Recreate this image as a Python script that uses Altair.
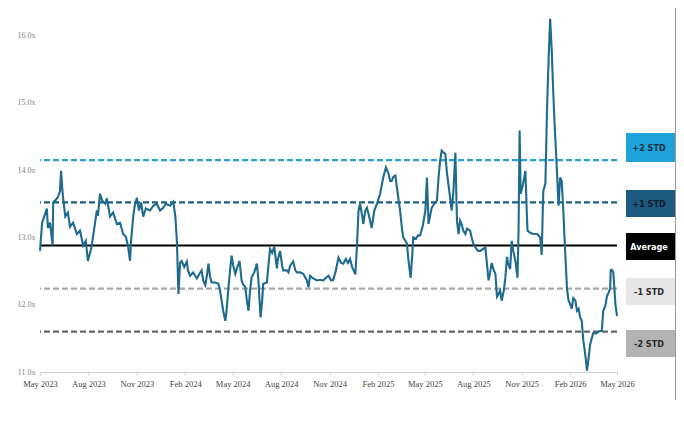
import altair as alt
import pandas as pd

# ---- data ----
dates = [
    "2023-05-01", "2023-05-05", "2023-05-09", "2023-05-14", "2023-05-16", "2023-05-20", "2023-05-25", "2023-05-26",
    "2023-05-31", "2023-06-04", "2023-06-08", "2023-06-10", "2023-06-13", "2023-06-18", "2023-06-23", "2023-06-27",
    "2023-07-03", "2023-07-10", "2023-07-16", "2023-07-22", "2023-07-27", "2023-07-31", "2023-08-04", "2023-08-07",
    "2023-08-12", "2023-08-17", "2023-08-19", "2023-08-23", "2023-08-27", "2023-09-02", "2023-09-05", "2023-09-11",
    "2023-09-17", "2023-09-24", "2023-09-30", "2023-10-06", "2023-10-11", "2023-10-15", "2023-10-19", "2023-10-21",
    "2023-10-25", "2023-10-28", "2023-11-01", "2023-11-05", "2023-11-09", "2023-11-13", "2023-11-18", "2023-11-26",
    "2023-12-02", "2023-12-09", "2023-12-15", "2023-12-21", "2023-12-26", "2024-01-03", "2024-01-09", "2024-01-13",
    "2024-01-16", "2024-01-19", "2024-01-22", "2024-01-25", "2024-01-30", "2024-02-04", "2024-02-06", "2024-02-10",
    "2024-02-16", "2024-02-23", "2024-02-27", "2024-03-03", "2024-03-06", "2024-03-10", "2024-03-13", "2024-03-16",
    "2024-03-19", "2024-03-22", "2024-03-29", "2024-04-04", "2024-04-07", "2024-04-10", "2024-04-13", "2024-04-17",
    "2024-04-19", "2024-04-23", "2024-04-26", "2024-04-29", "2024-05-02", "2024-05-06", "2024-05-09", "2024-05-14",
    "2024-05-18", "2024-05-21", "2024-05-25", "2024-05-28", "2024-05-31", "2024-06-03", "2024-06-06", "2024-06-11",
    "2024-06-16", "2024-06-19", "2024-06-21", "2024-06-23", "2024-06-26", "2024-06-28", "2024-07-05", "2024-07-07",
    "2024-07-11", "2024-07-15", "2024-07-19", "2024-07-24", "2024-07-26", "2024-07-30", "2024-08-03", "2024-08-05",
    "2024-08-12", "2024-08-15", "2024-08-18", "2024-08-24", "2024-08-28", "2024-08-31", "2024-09-06", "2024-09-12",
    "2024-09-19", "2024-09-22", "2024-09-25", "2024-10-01", "2024-10-08", "2024-10-14", "2024-10-20", "2024-10-25",
    "2024-10-30", "2024-11-04", "2024-11-08", "2024-11-13", "2024-11-18", "2024-11-23", "2024-11-27", "2024-12-02",
    "2024-12-06", "2024-12-10", "2024-12-14", "2024-12-20", "2024-12-23", "2024-12-26", "2024-12-29", "2025-01-02",
    "2025-01-04", "2025-01-08", "2025-01-11", "2025-01-15", "2025-01-20", "2025-01-25", "2025-01-30", "2025-02-05",
    "2025-02-11", "2025-02-16", "2025-02-21", "2025-02-24", "2025-02-27", "2025-03-02", "2025-03-06", "2025-03-09",
    "2025-03-11", "2025-03-15", "2025-03-19", "2025-03-21", "2025-03-25", "2025-03-28", "2025-03-31", "2025-04-04",
    "2025-04-07", "2025-04-09", "2025-04-14", "2025-04-18", "2025-04-22", "2025-04-27", "2025-05-02", "2025-05-05",
    "2025-05-08", "2025-05-11", "2025-05-14", "2025-05-19", "2025-05-24", "2025-05-27", "2025-05-30", "2025-06-02",
    "2025-06-06", "2025-06-09", "2025-06-12", "2025-06-14", "2025-06-18", "2025-06-21", "2025-06-24", "2025-06-28",
    "2025-07-01", "2025-07-04", "2025-07-07", "2025-07-10", "2025-07-13", "2025-07-17", "2025-07-20", "2025-07-26",
    "2025-07-29", "2025-08-01", "2025-08-05", "2025-08-10", "2025-08-14", "2025-08-20", "2025-08-24", "2025-08-30",
    "2025-09-02", "2025-09-05", "2025-09-09", "2025-09-12", "2025-09-15", "2025-09-18", "2025-09-21", "2025-09-24",
    "2025-09-28", "2025-10-01", "2025-10-04", "2025-10-06", "2025-10-10", "2025-10-13", "2025-10-16", "2025-10-20",
    "2025-10-24", "2025-10-26", "2025-10-28", "2025-10-30", "2025-11-03", "2025-11-08", "2025-11-11", "2025-11-12",
    "2025-11-17", "2025-11-23", "2025-11-30", "2025-12-03", "2025-12-06", "2025-12-09", "2025-12-11", "2025-12-12",
    "2025-12-16", "2025-12-19", "2025-12-22", "2025-12-25", "2025-12-28", "2025-12-31", "2026-01-03", "2026-01-06",
    "2026-01-10", "2026-01-13", "2026-01-16", "2026-01-19", "2026-01-21", "2026-01-23", "2026-01-26", "2026-01-29",
    "2026-02-01", "2026-02-04", "2026-02-07", "2026-02-11", "2026-02-14", "2026-02-17", "2026-02-20", "2026-02-23",
    "2026-02-26", "2026-03-02", "2026-03-05", "2026-03-07", "2026-03-11", "2026-03-14", "2026-03-17", "2026-03-22",
    "2026-03-27", "2026-03-30", "2026-04-02", "2026-04-05", "2026-04-09", "2026-04-12", "2026-04-15", "2026-04-18",
    "2026-04-19", "2026-04-21", "2026-04-24", "2026-04-28", "2026-05-01",
]
values = [
    12.80, 13.22, 13.31, 13.43, 13.14, 13.22, 12.88, 13.52,
    13.56, 13.60, 13.69, 13.99, 13.65, 13.31, 13.37, 13.16,
    13.22, 13.05, 13.10, 12.88, 12.95, 12.65, 12.77, 12.86,
    13.13, 13.40, 13.32, 13.65, 13.55, 13.50, 13.58, 13.31,
    13.37, 13.20, 13.22, 13.05, 13.01, 12.88, 12.65, 12.95,
    13.31, 13.47, 13.59, 13.40, 13.52, 13.31, 13.43, 13.40,
    13.47, 13.50, 13.40, 13.44, 13.50, 13.47, 13.53, 13.32,
    12.95, 12.16, 12.62, 12.65, 12.56, 12.64, 12.51, 12.43,
    12.48, 12.39, 12.45, 12.51, 12.36, 12.29, 12.43, 12.61,
    12.42, 12.33, 12.33, 12.31, 12.21, 12.06, 11.91, 11.76,
    11.88, 12.26, 12.51, 12.73, 12.58, 12.46, 12.54, 12.65,
    12.36, 12.30, 12.26, 12.06, 11.91, 12.21, 12.41, 12.48,
    12.61, 12.36, 12.06, 11.81, 12.06, 12.31, 12.33, 12.51,
    12.83, 12.77, 12.86, 12.54, 12.68, 12.80, 12.58, 12.51,
    12.51, 12.48, 12.58, 12.64, 12.51, 12.48, 12.48, 12.46,
    12.36, 12.26, 12.43, 12.39, 12.36, 12.37, 12.36, 12.40,
    12.43, 12.36, 12.37, 12.51, 12.70, 12.62, 12.61, 12.68,
    12.62, 12.68, 12.56, 12.45, 12.86, 13.40, 13.50, 13.32,
    13.20, 13.40, 13.44, 13.32, 13.14, 13.40, 13.50, 13.65,
    13.89, 14.04, 13.95, 13.84, 13.84, 13.90, 13.92, 13.74,
    13.62, 13.40, 13.10, 13.00, 12.95, 12.91, 12.65, 12.40,
    12.73, 13.00, 12.98, 13.03, 13.03, 13.17, 13.40, 13.89,
    13.20, 13.32, 13.44, 13.50, 13.55, 13.89, 14.14, 14.29,
    14.26, 14.24, 13.95, 13.84, 13.59, 13.40, 13.65, 14.26,
    13.25, 13.05, 13.25, 13.20, 13.10, 13.05, 13.13, 13.10,
    13.00, 12.91, 12.85, 12.80, 12.80, 12.83, 12.85, 12.36,
    12.48, 12.62, 12.51, 12.46, 12.12, 12.16, 12.21, 12.06,
    12.21, 12.41, 12.71, 12.62, 12.53, 12.95, 12.80, 12.65,
    12.40, 13.10, 14.59, 13.65, 13.77, 13.99, 13.29, 13.10,
    13.07, 13.05, 13.05, 13.03, 13.00, 12.74, 13.40, 13.69,
    13.80, 14.88, 15.63, 16.25, 15.78, 15.14, 14.59, 14.14,
    13.47, 13.89, 13.84, 13.40, 13.05, 12.72, 12.24, 12.06,
    12.01, 11.94, 12.10, 12.06, 11.91, 11.94, 11.81, 11.76,
    11.47, 11.24, 11.02, 11.14, 11.41, 11.50, 11.58, 11.57,
    11.60, 11.61, 11.61, 11.91, 11.99, 12.13, 12.18, 12.24,
    12.51, 12.52, 12.48, 12.01, 11.83,
]

level_labels = ["+2 STD", "+1 STD", "Average", "-1 STD", "-2 STD"]
level_values = [14.15, 13.52, 12.88, 12.24, 11.60]

x_tick_months = [(2023, 5), (2023, 8), (2023, 11), (2024, 2), (2024, 5), (2024, 8), (2024, 11),
                 (2025, 2), (2025, 5), (2025, 8), (2025, 11), (2026, 2), (2026, 5)]
y_ticks = [11, 12, 13, 14, 15, 16]

# ---- styles ----
line_style = {
    "+2 STD": dict(color="#2aa0d6", strokeDash=[6, 3]),
    "+1 STD": dict(color="#1f5d80", strokeDash=[6, 3]),
    "Average": dict(color="#000000"),
    "-1 STD": dict(color="#a8a8a8", strokeDash=[6, 3]),
    "-2 STD": dict(color="#666666", strokeDash=[6, 3]),
}
box_style = {  # fill, text colour, top, bottom (px in plot coords)
    "+2 STD": ("#1ea2da", "#1b2f45", 125, 154),
    "+1 STD": ("#1c5b7f", "#0e1c28", 182, 209),
    "Average": ("#000000", "#ffffff", 225, 252),
    "-1 STD": ("#e6e6e6", "#2a2a2a", 270, 297),
    "-2 STD": ("#b3b3b3", "#2a2a2a", 322, 349),
}

series = pd.DataFrame({"date": dates, "value": values})
levels = pd.DataFrame({"label": level_labels, "value": level_values})

yscale = alt.Scale(domain=[11, 16.41], nice=False, zero=False)
xscale = alt.Scale(type="utc",
                   domain=[alt.DateTime(year=2023, month=5, date=1, utc=True),
                           alt.DateTime(year=2026, month=5, date=1, utc=True)])

xaxis = alt.Axis(
    values=[alt.DateTime(year=y, month=m, date=1, utc=True) for y, m in x_tick_months],
    labelExpr="utcFormat(datum.value, '%b %Y')", title=None, grid=False,
    labelOverlap=False, labelFlush=False,
    domainColor="#cfcfcf", domainWidth=1, tickColor="#cfcfcf", tickSize=3,
    labelFont="Liberation Serif", labelFontSize=8.5, labelColor="#444444", labelPadding=4,
)
yaxis = alt.Axis(
    values=y_ticks, labelExpr="format(datum.value, '.1f') + 'x'", title=None, grid=False,
    domain=False, ticks=False, tickSize=0, labelPadding=5,
    labelFont="Liberation Serif", labelFontSize=8, labelColor="#808080",
)

layers = []
for lab in level_labels:
    sub = levels[levels["label"] == lab]
    layers.append(
        alt.Chart(sub).mark_rule(strokeWidth=2.2, **line_style[lab]).encode(
            y=alt.Y("value:Q", scale=yscale, axis=yaxis)
        )
    )

main_line = alt.Chart(series).mark_line(color="#1f6a8f", strokeWidth=2.1, interpolate="linear").encode(
    x=alt.X("date:T", scale=xscale, axis=xaxis),
    y=alt.Y("value:Q", scale=yscale, axis=yaxis),
)
layers.append(main_line)

for lab in level_labels:
    sub = levels[levels["label"] == lab]
    fill, tcol, top, bot = box_style[lab]
    layers.append(
        alt.Chart(sub).mark_rect(color=fill).encode(
            x=alt.value(586), x2=alt.value(635), y=alt.value(top), y2=alt.value(bot)
        )
    )
    layers.append(
        alt.Chart(sub).mark_text(
            font="DejaVu Sans Condensed, Liberation Sans Narrow, Liberation Sans", fontSize=9,
            fontWeight="bold", color=tcol, align="center", baseline="middle",
        ).encode(x=alt.value(609), y=alt.value((top + bot) / 2), text="label:N")
    )

border = alt.Chart(levels.head(1)).mark_rule(color="#9a9a9a", strokeWidth=1).encode(
    x=alt.value(635.5), y=alt.value(0), y2=alt.value(392)
)
layers.append(border)

chart = alt.layer(*layers).properties(
    width=577, height=364,
    autosize=alt.AutoSizeParams(type="none"),
    padding={"left": 32, "top": 0, "right": 59, "bottom": 36},
    background="white",
).configure_view(stroke=None)

chart.save("out.html", embed_options={"renderer": "svg", "actions": False})
